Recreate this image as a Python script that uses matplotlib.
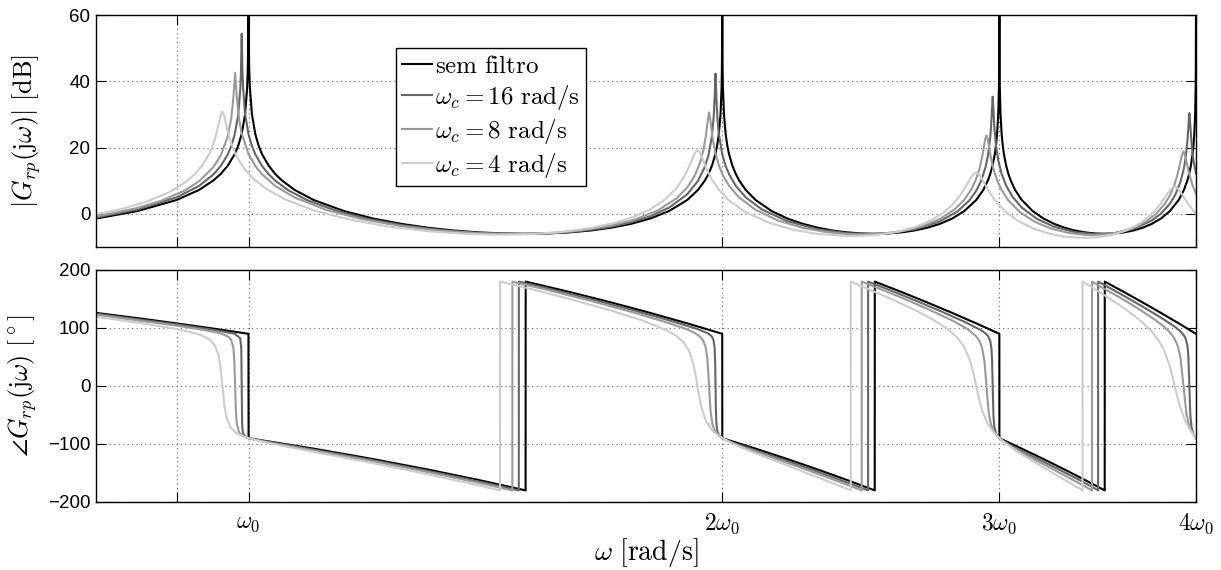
import numpy as np
import matplotlib
matplotlib.use("Agg")
import matplotlib.pyplot as plt
from matplotlib.ticker import NullLocator

plt.rcParams['font.family'] = ['Liberation Sans', 'DejaVu Sans']
plt.rcParams['mathtext.fontset'] = 'cm'

# frequencies are given as multiples of w0 (log axis from 0.8 w0 to 4 w0)
labels = [r'$\mathrm{sem\ filtro}$', r'$\omega_c = 16\ \mathrm{rad/s}$',
          r'$\omega_c = 8\ \mathrm{rad/s}$', r'$\omega_c = 4\ \mathrm{rad/s}$']
colors = ['#000000', '#666666', '#9a9a9a', '#cccccc']
xtick_pos = [0.9, 1, 2, 3, 4]
xtick_lab = ['', r'$\omega_0$', r'$2\omega_0$', r'$3\omega_0$', r'$4\omega_0$']

# ---- magnitude [dB] ----
w_mag0 = [0.80, 0.85, 0.90, 0.93, 0.95, 0.96, 0.97, 0.98, 0.985, 0.99, 0.995, 0.998, 0.999, 0.9997, 0.9999,
          1.0001, 1.0003, 1.001, 1.002, 1.005, 1.01, 1.015, 1.02, 1.03, 1.04, 1.05, 1.07, 1.10, 1.15, 1.20,
          1.25, 1.30, 1.35, 1.40, 1.45, 1.50, 1.55, 1.60, 1.65, 1.70, 1.75, 1.80, 1.85, 1.90, 1.93, 1.95,
          1.96, 1.97, 1.98, 1.985, 1.99, 1.995, 1.998, 1.999, 1.9997, 1.9999,
          2.0001, 2.0003, 2.001, 2.002, 2.005, 2.01, 2.015, 2.02, 2.03, 2.04, 2.05, 2.07, 2.10, 2.15, 2.20,
          2.25, 2.30, 2.35, 2.40, 2.45, 2.50, 2.55, 2.60, 2.65, 2.70, 2.75, 2.80, 2.85, 2.90, 2.93, 2.95,
          2.96, 2.97, 2.98, 2.985, 2.99, 2.995, 2.998, 2.999, 2.9997, 2.9999,
          3.0001, 3.0003, 3.001, 3.002, 3.005, 3.01, 3.015, 3.02, 3.03, 3.04, 3.05, 3.07, 3.10, 3.15, 3.20,
          3.25, 3.30, 3.35, 3.40, 3.45, 3.50, 3.55, 3.60, 3.65, 3.70, 3.75, 3.80, 3.85, 3.90, 3.93, 3.95,
          3.96, 3.97, 3.98, 3.985, 3.99, 3.995, 3.998, 3.999, 3.9997, 3.9999]
m0 = [-1.41, 0.84, 4.18, 7.20, 10.09, 12.02, 14.51, 18.02, 20.52, 24.04, 30.06, 38.02, 44.04, 54.49, 64.0,
      64.0, 54.49, 44.04, 38.02, 30.06, 24.04, 20.52, 18.02, 14.51, 12.02, 10.09, 7.20, 4.18, 0.84, -1.41,
      -3.01, -4.18, -5.02, -5.58, -5.91, -6.02, -5.91, -5.58, -5.02, -4.18, -3.01, -1.41, 0.84, 4.18, 7.20, 10.09,
      12.02, 14.51, 18.02, 20.52, 24.04, 30.06, 38.02, 44.04, 54.49, 64.0,
      64.0, 54.49, 44.04, 38.02, 30.06, 24.04, 20.52, 18.02, 14.51, 12.02, 10.09, 7.20, 4.18, 0.84, -1.41,
      -3.01, -4.18, -5.02, -5.58, -5.91, -6.02, -5.91, -5.58, -5.02, -4.18, -3.01, -1.41, 0.84, 4.18, 7.20, 10.09,
      12.02, 14.51, 18.02, 20.52, 24.04, 30.06, 38.02, 44.04, 54.49, 64.0,
      64.0, 54.49, 44.04, 38.02, 30.06, 24.04, 20.52, 18.02, 14.51, 12.02, 10.09, 7.20, 4.18, 0.84, -1.41,
      -3.01, -4.18, -5.02, -5.58, -5.91, -6.02, -5.91, -5.58, -5.02, -4.18, -3.01, -1.41, 0.84, 4.18, 7.20, 10.09,
      12.02, 14.51, 18.02, 20.52, 24.04, 30.06, 38.02, 44.04, 54.49, 64.0]

w_mag16 = [0.80, 0.85, 0.90, 0.93, 0.95, 0.96, 0.97, 0.975, 0.98, 0.985, 0.988, 0.989, 0.9901, 0.9911, 0.992,
           0.995, 1.00, 1.005, 1.01, 1.02, 1.03, 1.04, 1.06, 1.09, 1.14, 1.19, 1.25, 1.30, 1.35, 1.40, 1.45,
           1.50, 1.55, 1.60, 1.65, 1.70, 1.75, 1.80, 1.85, 1.90, 1.93, 1.95, 1.96, 1.97, 1.975, 1.978, 1.9804,
           1.983, 1.986, 1.99, 2.00, 2.01, 2.02, 2.04, 2.07, 2.12, 2.20, 2.30, 2.40, 2.475, 2.55, 2.65, 2.75,
           2.82, 2.87, 2.90, 2.92, 2.94, 2.95, 2.96, 2.965, 2.968, 2.9708, 2.974, 2.978, 2.985, 2.995, 3.01,
           3.03, 3.06, 3.10, 3.17, 3.25, 3.35, 3.45, 3.55, 3.65, 3.75, 3.80, 3.85, 3.88, 3.91, 3.93, 3.94,
           3.95, 3.955, 3.9614, 3.967, 3.975, 3.985, 4.00]
m16 = [-1.10, 1.30, 4.97, 8.40, 11.90, 14.38, 17.89, 20.43, 23.94, 29.86, 37.49, 42.88, 54.36, 43.64, 38.34,
       30.19, 24.00, 20.47, 17.96, 14.43, 11.94, 10.00, 7.11, 4.09, 0.75, -1.49, -3.36, -4.45, -5.22, -5.73, -6.00,
       -6.05, -5.87, -5.47, -4.82, -3.88, -2.56, -0.73, 1.86, 5.90, 9.90, 14.26, 17.71, 23.52, 29.14, 35.41, 42.33,
       34.78, 28.75, 24.11, 17.97, 14.42, 11.98, 8.45, 4.98, 1.29, -2.21, -4.65, -5.82, -6.07, -5.84, -4.69, -2.27,
       0.65, 3.96, 6.94, 9.79, 14.08, 17.45, 22.96, 27.77, 32.16, 35.36, 31.53, 26.24, 20.69, 16.15, 12.01,
       8.48, 4.98, 1.88, -1.53, -3.89, -5.52, -6.12, -5.82, -4.56, -2.00, 0.05, 3.06, 5.69, 9.61, 13.79, 17.02,
       22.01, 25.83, 30.40, 26.55, 20.67, 16.20, 12.05]

w_mag8 = [0.80, 0.85, 0.88, 0.91, 0.93, 0.95, 0.96, 0.97, 0.975, 0.978, 0.9806, 0.983, 0.986, 0.99, 1.00,
          1.01, 1.02, 1.04, 1.07, 1.12, 1.18, 1.25, 1.32, 1.40, 1.471, 1.55, 1.62, 1.70, 1.76, 1.82, 1.87,
          1.90, 1.92, 1.935, 1.945, 1.952, 1.957, 1.9618, 1.966, 1.972, 1.98, 1.99, 2.00, 2.02, 2.05, 2.10,
          2.17, 2.25, 2.33, 2.40, 2.453, 2.52, 2.60, 2.68, 2.75, 2.81, 2.85, 2.88, 2.90, 2.915, 2.925, 2.935,
          2.9394, 2.9439, 2.9484, 2.953, 2.963, 2.975, 2.99, 3.01, 3.04, 3.09, 3.16, 3.24, 3.32, 3.40, 3.436,
          3.50, 3.58, 3.66, 3.72, 3.77, 3.82, 3.85, 3.875, 3.895, 3.91, 3.919, 3.9275, 3.936, 3.945, 3.96,
          3.98, 4.00]
m8 = [-0.80, 1.77, 3.94, 6.94, 9.79, 14.13, 17.56, 23.30, 28.70, 34.75, 42.53, 35.31, 29.00, 24.29, 18.05,
      14.47, 11.94, 8.41, 4.92, 1.23, -1.57, -3.70, -5.02, -5.86, -6.09, -5.82, -5.09, -3.54, -1.71, 1.03, 4.62,
      7.97, 11.30, 15.08, 18.94, 23.07, 27.33, 30.58, 27.91, 22.79, 18.28, 14.65, 12.07, 8.47, 4.95, 1.21,
      -2.00, -4.22, -5.51, -6.08, -6.22, -6.03, -5.24, -3.73, -1.55, 1.35, 4.25, 7.47, 10.57, 13.92, 17.03, 21.10,
      22.90, 23.69, 22.90, 21.02, 16.95, 13.35, 10.15, 7.16, 4.02, 0.59, -2.43, -4.54, -5.76, -6.33, -6.39,
      -6.22, -5.47, -3.99, -2.24, -0.16, 2.90, 5.56, 8.66, 12.19, 15.72, 17.80, 18.86, 17.80, 15.70, 12.16,
      8.62, 6.04]

w_mag4 = [0.80, 0.83, 0.86, 0.89, 0.91, 0.925, 0.935, 0.945, 0.952, 0.957, 0.9597, 0.9625, 0.9653, 0.968,
          0.974, 0.982, 0.992, 1.005, 1.025, 1.055, 1.10, 1.16, 1.23, 1.30, 1.38, 1.4456, 1.51, 1.58, 1.65,
          1.71, 1.76, 1.80, 1.84, 1.87, 1.89, 1.905, 1.917, 1.9227, 1.9287, 1.9347, 1.94, 1.953, 1.97, 1.99,
          2.02, 2.07, 2.14, 2.22, 2.30, 2.414, 2.50, 2.58, 2.65, 2.71, 2.76, 2.80, 2.83, 2.855, 2.875, 2.8875,
          2.90, 2.9125, 2.925, 2.95, 2.98, 3.02, 3.08, 3.15, 3.23, 3.30, 3.389, 3.46, 3.54, 3.61, 3.67, 3.72,
          3.76, 3.80, 3.835, 3.86, 3.8685, 3.8775, 3.8865, 3.895, 3.92, 3.95, 3.975, 4.00]
m4 = [-0.18, 1.46, 3.56, 6.47, 9.22, 12.09, 14.74, 18.47, 22.52, 26.71, 29.38, 30.89, 29.38, 26.70,
      21.83, 17.59, 14.13, 11.00, 7.70, 4.37, 1.08, -1.76, -3.89, -5.23, -6.07, -6.29, -6.12, -5.48, -4.28,
      -2.68, -0.76, 1.36, 4.38, 7.72, 10.92, 14.22, 17.37, 18.60, 19.16, 18.60, 17.41, 13.99, 10.38, 7.30,
      4.04, 0.47, -2.63, -4.81, -6.07, -6.72, -6.42, -5.50, -4.05, -2.15, 0.13, 2.69, 5.30, 8.09, 10.67, 11.99,
      12.57, 11.95, 10.49, 7.29, 4.14, 1.09, -2.00, -4.35, -6.03, -6.87, -7.28, -7.09, -6.31, -5.06, -3.41, -1.50,
      0.54, 3.21, 6.01, 7.71, 8.00, 8.12, 7.98, 7.59, 5.80, 3.34, 1.55, 0.01]

# ---- phase [deg] ----
w_ph0 = [0.80, 0.85, 0.90, 0.95, 0.9999, 1.0001, 1.1, 1.2, 1.3, 1.4, 1.4999, 1.5001, 1.6, 1.7, 1.8, 1.9,
         1.9999, 2.0001, 2.1, 2.2, 2.3, 2.4, 2.4999, 2.5001, 2.6, 2.7, 2.8, 2.9, 2.9999, 3.0001, 3.1, 3.2,
         3.3, 3.4, 3.4999, 3.5001, 3.6, 3.7, 3.8, 3.9, 4.0]
p0 = [126, 117, 108, 99, 90, -90, -108, -126, -144, -162, -180, 180, 162, 144, 126, 108,
      90, -90, -108, -126, -144, -162, -180, 180, 162, 144, 126, 108, 90, -90, -108, -126,
      -144, -162, -180, 180, 162, 144, 126, 108, 90]

w_ph16 = [0.80, 0.90, 0.95, 0.98, 0.988, 0.9895, 0.9901, 0.9907, 0.9911, 0.992, 0.995, 1.00, 1.10, 1.20,
          1.30, 1.40, 1.4851, 1.4852, 1.55, 1.65, 1.75, 1.85, 1.93, 1.96, 1.97, 1.975, 1.978, 1.9795, 1.9804,
          1.9813, 1.983, 1.986, 1.99, 2.00, 2.03, 2.10, 2.20, 2.30, 2.40, 2.4756, 2.4757, 2.55, 2.65, 2.75,
          2.85, 2.92, 2.94, 2.95, 2.96, 2.965, 2.968, 2.9708, 2.974, 2.978, 2.985, 2.995, 3.01, 3.06, 3.15,
          3.25, 3.35, 3.43, 3.4661, 3.4662, 3.50, 3.60, 3.70, 3.80, 3.88, 3.91, 3.93, 3.94, 3.95, 3.955,
          3.9614, 3.967, 3.975, 3.985, 4.00]
p16 = [124.5, 106.2, 96.9, 90.1, 82.1, 63.2, 0.0, -63.2, -73.3, -81.3, -87.3, -90.1, -109.8, -128.0,
       -146.3, -164.5, -180, 180, 168.2, 150.0, 131.7, 113.3, 97.9, 90.4, 85.3, 78.3, 63.6, 36.8, 0.0,
       -36.8, -65.5, -78.8, -84.6, -90.1, -97.6, -111.1, -129.6, -147.9, -166.2, -180, 180, 166.4, 148.0, 129.6,
       110.8, 96.3, 90.7, 86.5, 78.1, 66.2, 46.7, 0.0, -50.4, -70.8, -81.8, -88.0, -93.2, -104.3, -121.4,
       -139.8, -158.0, -172.7, -180, 180, 173.8, 155.4, 136.8, 117.9, 101.7, 94.3, 87.3, 81.5, 69.7, 54.6,
       0.0, -50.9, -73.3, -82.9, -90.0]

w_ph8 = [0.80, 0.90, 0.94, 0.96, 0.97, 0.975, 0.978, 0.9795, 0.9806, 0.9817, 0.983, 0.986, 0.99, 1.00,
         1.03, 1.10, 1.20, 1.30, 1.40, 1.4711, 1.4712, 1.55, 1.65, 1.75, 1.85, 1.90, 1.92, 1.935, 1.945,
         1.952, 1.957, 1.9618, 1.966, 1.972, 1.98, 1.99, 2.00, 2.05, 2.15, 2.25, 2.35, 2.42, 2.4526, 2.4527,
         2.50, 2.60, 2.70, 2.80, 2.86, 2.90, 2.915, 2.925, 2.935, 2.9439, 2.953, 2.963, 2.975, 2.99, 3.01,
         3.06, 3.15, 3.25, 3.35, 3.41, 3.4354, 3.4355, 3.48, 3.58, 3.68, 3.77, 3.82, 3.85, 3.875, 3.895,
         3.91, 3.9275, 3.945, 3.96, 3.98, 4.00]
p8 = [122.9, 104.1, 95.9, 90.7, 85.8, 79.3, 66.4, 43.1, 0.0, -43.1, -64.6, -78.8, -84.7, -90.0,
      -97.6, -111.3, -129.9, -148.4, -166.9, -180, 180, 165.4, 146.8, 128.0, 108.5, 97.5, 91.9, 85.4, 78.1,
      66.9, 47.4, 0.0, -43.4, -67.8, -79.2, -85.8, -90.0, -103.0, -123.0, -142.0, -160.8, -173.9, -180, 180,
      171.0, 152.3, 133.1, 113.1, 99.1, 85.7, 76.6, 65.9, 43.8, 0.0, -44.3, -65.8, -77.7, -86.0, -93.3,
      -106.2, -125.0, -144.6, -163.7, -175.1, -180, 180, 170.9, 152.3, 132.6, 113.6, 101.5, 92.5, 82.3, 68.9,
      49.5, 0.0, -49.1, -68.3, -81.5, -90.0]

w_ph4 = [0.80, 0.86, 0.90, 0.925, 0.935, 0.945, 0.952, 0.957, 0.9597, 0.9625, 0.9653, 0.968, 0.974, 0.982,
         0.992, 1.005, 1.04, 1.10, 1.20, 1.30, 1.40, 1.4448, 1.4449, 1.50, 1.60, 1.70, 1.78, 1.84, 1.87,
         1.89, 1.905, 1.917, 1.9227, 1.9287, 1.9347, 1.94, 1.953, 1.97, 1.99, 2.02, 2.07, 2.15, 2.25, 2.35,
         2.4136, 2.4137, 2.45, 2.55, 2.65, 2.72, 2.78, 2.82, 2.85, 2.875, 2.8875, 2.90, 2.9125, 2.925, 2.95,
         2.98, 3.02, 3.08, 3.16, 3.24, 3.32, 3.3881, 3.3882, 3.45, 3.55, 3.63, 3.70, 3.75, 3.79, 3.82, 3.85,
         3.864, 3.8775, 3.891, 3.91, 3.94, 3.97, 4.00]
p4 = [119.4, 107.3, 98.3, 90.9, 86.6, 79.8, 69.9, 53.1, 33.3, 0.0, -33.3, -52.6, -71.2, -80.8,
      -86.8, -91.7, -100.8, -113.5, -133.1, -152.2, -171.3, -180, 180, 169.5, 150.0, 130.0, 112.8, 97.3, 86.5,
      75.5, 60.9, 38.6, 21.6, 0.0, -21.6, -37.0, -60.4, -75.7, -86.0, -96.4, -109.4, -126.9, -147.3, -167.3,
      -180, 180, 172.6, 152.3, 131.2, 115.0, 98.6, 83.9, 67.1, 42.6, 23.3, 0.0, -23.3, -41.8, -65.6,
      -82.2, -96.7, -113.2, -131.8, -149.1, -165.9, -180, 180, 167.0, 145.5, 127.1, 109.1, 93.6, 77.2, 59.8, 33.7,
      17.3, 0.0, -17.3, -38.2, -61.9, -77.9, -90.0]

mag_w = [w_mag0, w_mag16, w_mag8, w_mag4]
mag_v = [m0, m16, m8, m4]
ph_w = [w_ph0, w_ph16, w_ph8, w_ph4]
ph_v = [p0, p16, p8, p4]

fig = plt.figure(figsize=(12.21, 5.70), dpi=100)
ax1 = fig.add_axes([96/1221, 1-247/570, 1100/1221, 232/570])
ax2 = fig.add_axes([96/1221, 1-502/570, 1100/1221, 232/570])

for i in range(4):
    ax1.plot(mag_w[i], mag_v[i], color=colors[i], lw=1.5, label=labels[i])
    ax2.plot(ph_w[i], ph_v[i], color=colors[i], lw=1.5)

for ax in (ax1, ax2):
    ax.set_xscale('log')
    ax.set_xlim(0.8, 4)
    ax.xaxis.set_minor_locator(NullLocator())
    ax.set_xticks(xtick_pos)
    ax.grid(True, linestyle=(0, (1, 3)), color='0.4', lw=0.8)
    ax.tick_params(direction='in', length=7, width=0.8, top=True, right=True,
                   labelsize=13.5, pad=4)
    for s in ax.spines.values():
        s.set_linewidth(1.0)

ax1.set_ylim(-10, 60)
ax1.set_yticks([0, 20, 40, 60])
ax1.set_xticklabels([])
ax1.set_ylabel(r'$|G_{rp}(\mathrm{j}\omega)|\ \mathrm{[dB]}$', fontsize=19)
ax1.yaxis.set_label_coords(-0.048, 0.5)

ax2.set_ylim(-200, 200)
ax2.set_yticks([-200, -100, 0, 100, 200])
ax2.set_xticklabels(xtick_lab, fontsize=17)
ax2.tick_params(axis='x', pad=7)
ax2.set_ylabel(r'$\angle G_{rp}(\mathrm{j}\omega)\ [^\circ]$', fontsize=19)
ax2.yaxis.set_label_coords(-0.052, 0.5)
ax2.set_xlabel(r'$\omega\ \mathrm{[rad/s]}$', fontsize=20)
ax2.xaxis.set_label_coords(0.5, -0.145)

leg = ax1.legend(loc='upper left', bbox_to_anchor=(0.2727, 0.858), borderaxespad=0,
                 fontsize=18, handlelength=1.2, handletextpad=0.1, labelspacing=0.2,
                 borderpad=0.25, fancybox=False, framealpha=1)
leg.get_frame().set_edgecolor('black')
leg.get_frame().set_linewidth(1.0)

fig.savefig('out.png', dpi=100)
